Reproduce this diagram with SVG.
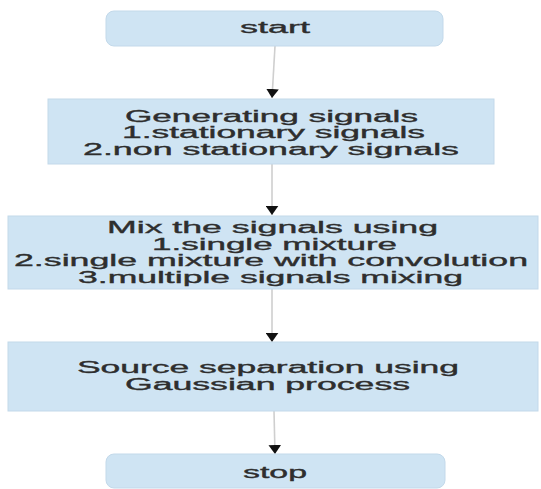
<svg xmlns="http://www.w3.org/2000/svg" width="541" height="489" viewBox="0 0 541 489">
<style>
.box{fill:#cfe4f3;stroke:#c3d9ea;stroke-width:1}
.t{font-family:"Liberation Sans",Arial,sans-serif;font-size:16px;fill:#2e2e2e;stroke:#2e2e2e;stroke-width:0.35;text-anchor:middle}
.c{stroke:#cfcfcf;stroke-width:1.6;fill:none}
</style>
<defs>
<marker id="ah" viewBox="0 0 10 14" refX="10" refY="7" markerWidth="9" markerHeight="13" markerUnits="userSpaceOnUse" orient="auto">
<path d="M0,0 L10,7 L0,14 z" fill="#111"/>
</marker>
</defs>
<rect width="541" height="489" fill="#fff"/>
<g id="connectors">
<path class="c" d="M275,46 L272,98" marker-end="url(#ah)"/>
<path class="c" d="M272,164 L272,215" marker-end="url(#ah)"/>
<path class="c" d="M272,289 L272,342" marker-end="url(#ah)"/>
<path class="c" d="M274,411 L275,454" marker-end="url(#ah)"/>
</g>
<g id="start">
<rect class="box" x="106" y="11" width="337" height="35" rx="8"/>
<text class="t" x="275" y="33" textLength="70" lengthAdjust="spacingAndGlyphs">start</text>
</g>
<g id="generate">
<rect class="box" x="48" y="99" width="446" height="65"/>
<text class="t" x="271.5" y="122" textLength="293" lengthAdjust="spacingAndGlyphs">Generating signals</text>
<text class="t" x="273.5" y="138" textLength="303" lengthAdjust="spacingAndGlyphs">1.stationary signals</text>
<text class="t" x="271" y="154.5" textLength="376" lengthAdjust="spacingAndGlyphs">2.non stationary signals</text>
</g>
<g id="mix">
<rect class="box" x="8" y="216" width="530" height="73"/>
<text class="t" x="272.5" y="233" textLength="331" lengthAdjust="spacingAndGlyphs">Mix the signals using</text>
<text class="t" x="274.5" y="249.5" textLength="245" lengthAdjust="spacingAndGlyphs">1.single mixture</text>
<text class="t" x="271" y="266" textLength="514" lengthAdjust="spacingAndGlyphs">2.single mixture with convolution</text>
<text class="t" x="270.5" y="282.5" textLength="385" lengthAdjust="spacingAndGlyphs">3.multiple signals mixing</text>
</g>
<g id="separation">
<rect class="box" x="8" y="342" width="530" height="69"/>
<text class="t" x="268" y="373" textLength="382" lengthAdjust="spacingAndGlyphs">Source separation using</text>
<text class="t" x="267.5" y="390" textLength="285" lengthAdjust="spacingAndGlyphs">Gaussian process</text>
</g>
<g id="stop">
<rect class="box" x="106" y="454" width="339" height="34" rx="8"/>
<text class="t" x="275" y="478" textLength="64" lengthAdjust="spacingAndGlyphs">stop</text>
</g>
</svg>
